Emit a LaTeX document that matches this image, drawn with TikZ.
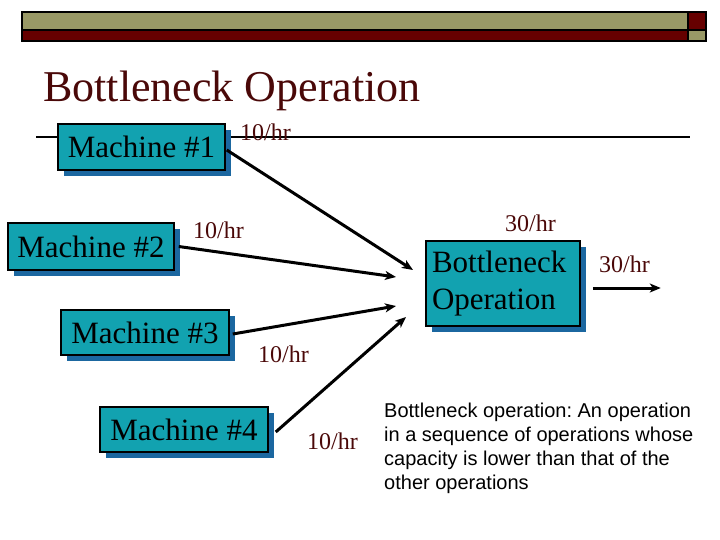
\documentclass[tikz,border=0pt]{standalone}
\usepackage{fontspec}
\setmainfont{Liberation Serif}
\newfontfamily\arialfont{Liberation Sans}
\usetikzlibrary{arrows.meta,shadows}
\frenchspacing
\definecolor{olivebar}{HTML}{999966}
\definecolor{maroonbar}{HTML}{660000}
\definecolor{tealfill}{HTML}{12A2B0}
\definecolor{shadowblue}{HTML}{1B67A0}
\definecolor{labelred}{HTML}{4A0808}
\tikzset{
  machine/.style={draw=black, line width=1.5pt, fill=tealfill, inner sep=0pt,
    font=\fontsize{31}{36}\selectfont,
    drop shadow={shadow xshift=6pt, shadow yshift=-6pt, opacity=1, fill=shadowblue}},
  rate/.style={anchor=base west, inner sep=0pt, text=labelred, font=\fontsize{24}{28}\selectfont},
  flow/.style={line width=3pt, -{Stealth[length=11pt,width=9pt,inset=3pt]}}
}
\begin{document}
\begin{tikzpicture}[x=1pt,y=-1pt]
\useasboundingbox (0,0) rectangle (720,540);
% top bar
\fill[olivebar] (22,12) rectangle (688,30);
\fill[maroonbar] (22,30) rectangle (688,41);
\fill[maroonbar] (688,12) rectangle (706,30);
\fill[olivebar] (688,30) rectangle (706,41);
\draw[line width=1.2pt] (22,12) rectangle (706,41);
\draw[line width=1.2pt] (22,30) -- (706,30);
\draw[line width=1.2pt] (688,12) -- (688,41);
% title
\node[anchor=base west, inner sep=0pt, text=labelred, font=\fontsize{44}{50}\selectfont] (title) at (43,102) {Bottleneck Operation};
% rule
\coordinate (r1) at (36,137);
\coordinate (r2) at (690,137);
\draw[line width=2pt] (r1) -- (r2);
% boxes
\node[machine, minimum width=167pt, minimum height=46pt] (m1) at (141.5,147) {Machine \#1};
\node[machine, minimum width=166pt, minimum height=47pt] (m2) at (91,246.5) {Machine \#2};
\node[machine, minimum width=168pt, minimum height=45pt] (m3) at (145,332.5) {Machine \#3};
\node[machine, minimum width=168pt, minimum height=45pt] (m4) at (184,429.5) {Machine \#4};
\node[machine, minimum width=154pt, minimum height=85pt, align=left, text width=142pt, font=\fontsize{31}{37}\selectfont] (bn) at (503,283.5) {Bottleneck\\Operation};
% arrow targets
\coordinate (t1) at (413,270);
\coordinate (t2) at (396,277);
\coordinate (t3) at (396,306);
\coordinate (t4) at (406,317);
\draw[flow] ([xshift=1pt,yshift=-3pt]m1.east) -- (t1);
\draw[flow] ([xshift=4pt]m2.east) -- (t2);
\draw[flow] ([xshift=3pt,yshift=-1.5pt]m3.east) -- (t3);
\draw[flow] ([xshift=7pt,yshift=-2.5pt]m4.east) -- (t4);
\draw[flow] (bn.east) ++(12,4.5) -- ++(68,0);
% rate labels
\node[rate] (l1) at (240,141) {10/hr};
\node[rate] (l2) at (193,238) {10/hr};
\node[rate] (l3) at (258,362) {10/hr};
\node[rate] (l4) at (307,449) {10/hr};
\node[rate] (l5) at (505,231) {30/hr};
\node[rate] (l6) at (599,272) {30/hr};
% definition
\node[anchor=north west, inner sep=0pt, align=left, font=\arialfont\fontsize{20}{24}\selectfont] (def) at (384,403)
  {Bottleneck operation: An operation\\in a sequence of operations whose\\capacity is lower than that of the\\other operations};
\end{tikzpicture}
\end{document}
